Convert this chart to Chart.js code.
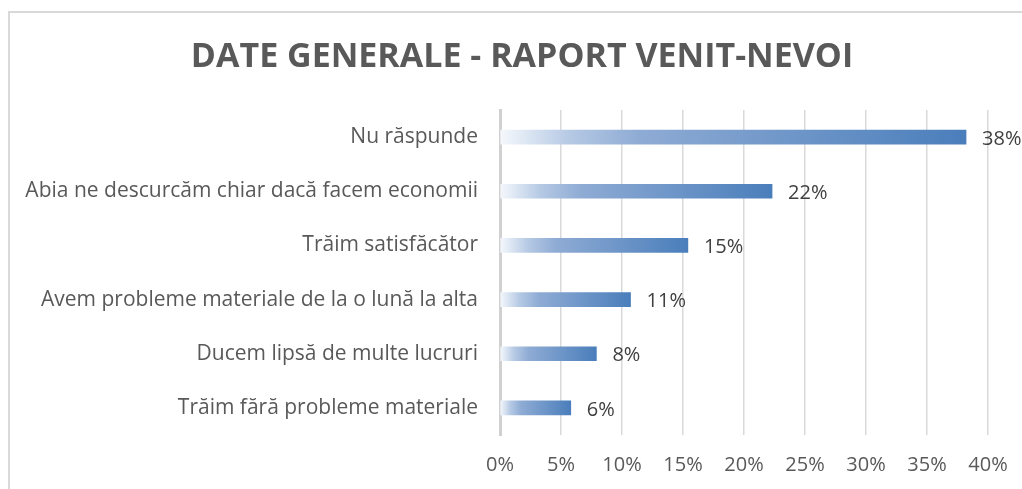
<!DOCTYPE html>
<html>
<head>
<meta charset="utf-8">
<script src="https://cdn.jsdelivr.net/npm/chart.js@4/dist/chart.umd.min.js"></script>
<style>
  html, body { margin: 0; padding: 0; background: #fff; }
  #wrap { position: relative; width: 1022px; height: 489px; overflow: hidden; }
  #frame { position: absolute; left: 8px; top: 11px; width: 1100px; height: 600px; border-left: 2px solid #d9d9d9; border-top: 2px solid #d9d9d9; box-sizing: border-box; }
  canvas { position: absolute; left: 0; top: 0; }
</style>
</head>
<body>
<div id="wrap">
  <div id="frame"></div>
  <canvas id="c" width="1022" height="489"></canvas>
</div>
<script>
const titleText = 'DATE GENERALE - RAPORT VENIT-NEVOI';
const categories = [
  'Nu răspunde',
  'Abia ne descurcăm chiar dacă facem economii',
  'Trăim satisfăcător',
  'Avem probleme materiale de la o lună la alta',
  'Ducem lipsă de multe lucruri',
  'Trăim fără probleme materiale'
];
const values = [38.2, 22.3, 15.4, 10.7, 7.9, 5.8];
const valueLabels = ['38%', '22%', '15%', '11%', '8%', '6%'];
const tickLabels = ['0%', '5%', '10%', '15%', '20%', '25%', '30%', '35%', '40%'];

const FONT = "'Open Sans', sans-serif";

function barGradient(ctx) {
  const chart = ctx.chart;
  if (!chart.chartArea || ctx.dataIndex === undefined) return '#4a7ebb';
  const xs = chart.scales.x;
  const x0 = xs.getPixelForValue(0);
  const x1 = xs.getPixelForValue(values[ctx.dataIndex]);
  const g = chart.ctx.createLinearGradient(x0, 0, x1, 0);
  g.addColorStop(0, '#f5f8fc');
  g.addColorStop(0.15, '#b5c9e4');
  g.addColorStop(0.3, '#8eabd4');
  g.addColorStop(1, '#4a7ebb');
  return g;
}

const titlePlugin = {
  id: 'customTitle',
  afterDraw(chart) {
    const c = chart.ctx;
    c.save();
    c.font = "bold 34px " + FONT;
    c.fillStyle = '#595959';
    c.textAlign = 'center';
    c.textBaseline = 'alphabetic';
    c.fillText(titleText, 522, 67);
    c.restore();
  }
};

const valueLabelPlugin = {
  id: 'valueLabels',
  afterDatasetsDraw(chart) {
    const meta = chart.getDatasetMeta(0);
    const c = chart.ctx;
    c.save();
    c.font = "20px " + FONT;
    c.fillStyle = '#404040';
    c.textAlign = 'left';
    c.textBaseline = 'middle';
    meta.data.forEach((bar, i) => {
      c.fillText(valueLabels[i], bar.x + 16, bar.y + 2);
    });
    c.restore();
  }
};

new Chart(document.getElementById('c'), {
  type: 'bar',
  data: {
    labels: categories,
    datasets: [{
      data: values,
      backgroundColor: barGradient,
      borderWidth: 0,
      barThickness: 14
    }]
  },
  options: {
    indexAxis: 'y',
    responsive: false,
    animation: false,
    layout: { padding: { left: 0, right: 34, top: 110, bottom: 10 } },
    plugins: {
      legend: { display: false },
      tooltip: { enabled: false },
      title: { display: false }
    },
    scales: {
      x: {
        min: 0,
        max: 40,
        ticks: {
          stepSize: 5,
          color: '#595959',
          font: { family: FONT, size: 20 },
          padding: 18,
          maxRotation: 0,
          callback: (v, i) => tickLabels[i]
        },
        grid: { color: '#d9d9d9', lineWidth: 1.5, drawTicks: false },
        border: { display: false },
        afterFit(scale) { scale.height = 44; scale.paddingRight = 0; }
      },
      y: {
        ticks: {
          color: '#595959',
          font: { family: FONT, size: 21 },
          padding: 22
        },
        grid: { display: false, drawTicks: false },
        border: { display: true, color: '#d0d0d0', width: 3 },
        afterFit(scale) { scale.width = 500; }
      }
    }
  },
  plugins: [valueLabelPlugin, titlePlugin]
});
</script>
</body>
</html>
